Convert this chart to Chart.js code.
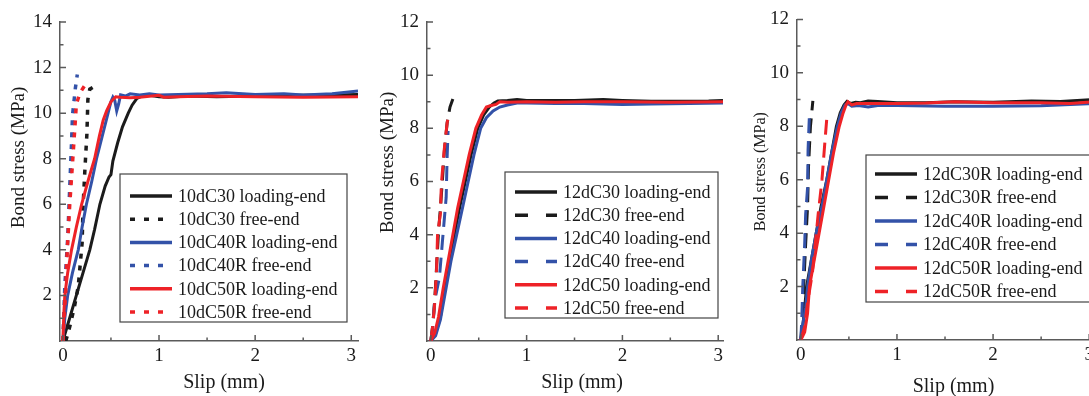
<!DOCTYPE html>
<html>
<head>
<meta charset="utf-8">
<script src="https://cdn.jsdelivr.net/npm/chart.js@4.4.1/dist/chart.umd.min.js"></script>
<style>
html, body { margin: 0; padding: 0; background: #fff; overflow: hidden; width: 1089px; height: 396px; }
canvas { position: absolute; top: 0; }
</style>
</head>
<body>
<canvas id="c1" width="370" height="396" style="left:0"></canvas>
<canvas id="c2" width="370" height="396" style="left:370px"></canvas>
<canvas id="c3" width="370" height="396" style="left:740px"></canvas>
<script>
// tick values
const xTicks = [0, 1, 2, 3];
const xMinor = [0.5, 1.5, 2.5];
const yTicks14 = [2, 4, 6, 8, 10, 12, 14];
const yMinor14 = [1, 3, 5, 7, 9, 11, 13];
const yTicks12 = [2, 4, 6, 8, 10, 12];
const yMinor12 = [1, 3, 5, 7, 9, 11];

// panel 1 - [slip mm, stress MPa]
const p1Labels = ["10dC30 loading-end", "10dC30 free-end", "10dC40R loading-end", "10dC40R free-end", "10dC50R loading-end", "10dC50R free-end"];
const p1C30Load = [[0,0],[0.07,1.0],[0.14,2],[0.21,3],[0.28,4],[0.33,4.9],[0.385,6],[0.44,6.8],[0.48,7.2],[0.5,7.3],[0.52,7.9],[0.57,8.7],[0.62,9.4],[0.68,10.0],[0.72,10.35],[0.77,10.65],[0.82,10.75],[0.9,10.78],[1.0,10.72],[1.1,10.7],[1.3,10.75],[1.6,10.72],[2.0,10.75],[2.4,10.78],[2.8,10.8],[3.07,10.82]];
const p1C30Free = [[0.03,0],[0.07,0.6],[0.12,1.5],[0.16,2.4],[0.2,4.3],[0.21,5.9],[0.23,7.6],[0.25,9.1],[0.26,10.6],[0.28,11.05],[0.32,11.15],[0.36,11.2]];
const p1C40Load = [[0,0],[0.02,1],[0.05,2],[0.1,3],[0.16,4],[0.2,5],[0.245,6],[0.3,7],[0.35,8],[0.41,9],[0.47,10],[0.5,10.5],[0.52,10.7],[0.54,10.55],[0.56,10.1],[0.58,10.4],[0.6,10.8],[0.65,10.75],[0.7,10.85],[0.8,10.8],[0.9,10.85],[1.0,10.8],[1.2,10.82],[1.5,10.85],[1.7,10.9],[2.0,10.82],[2.3,10.85],[2.5,10.8],[2.8,10.85],[3.07,10.97]];
const p1C40Free = [[0,0],[0.02,2.4],[0.05,4.5],[0.07,6.6],[0.09,8.7],[0.1,9.9],[0.13,11.1],[0.15,11.7]];
const p1C50Load = [[0,0],[0.01,1.2],[0.02,2],[0.05,3],[0.09,4],[0.14,5],[0.195,6],[0.26,7],[0.33,8],[0.38,9],[0.42,9.7],[0.455,10.1],[0.5,10.5],[0.55,10.72],[0.6,10.7],[0.7,10.68],[0.8,10.7],[1.0,10.78],[1.05,10.7],[1.2,10.72],[1.5,10.75],[2.0,10.72],[2.5,10.7],[3.07,10.72]];
const p1C50Free = [[0,0],[0.01,0.8],[0.03,2.2],[0.04,3.5],[0.07,5.9],[0.1,7.8],[0.13,9.7],[0.14,10.4],[0.18,10.9],[0.24,11.3]];

// panel 2
const p2Labels = ["12dC30 loading-end", "12dC30 free-end", "12dC40 loading-end", "12dC40 free-end", "12dC50 loading-end", "12dC50 free-end"];
const p2C30Load = [[0,0],[0.05,0.3],[0.1,0.9],[0.145,2],[0.195,3],[0.245,4],[0.3,5],[0.36,6],[0.42,7],[0.49,8],[0.55,8.5],[0.61,8.8],[0.66,8.95],[0.7,9.03],[0.8,9.05],[0.9,9.08],[1.0,9.05],[1.2,9.05],[1.5,9.05],[1.8,9.08],[2.0,9.05],[2.3,9.02],[2.6,9.02],[2.9,9.03],[3.05,9.05]];
const p2C30Free = [[0,0],[0.02,0.6],[0.04,1.5],[0.06,2.8],[0.08,4.1],[0.1,5],[0.12,6],[0.14,7.1],[0.17,8.2],[0.2,8.8],[0.23,9.1]];
const p2C40Load = [[0,0],[0.05,0.2],[0.1,0.8],[0.16,2],[0.21,3],[0.27,4],[0.33,5],[0.39,6],[0.45,7],[0.52,8],[0.58,8.4],[0.65,8.65],[0.72,8.8],[0.8,8.88],[0.9,8.95],[1.0,8.95],[1.3,8.93],[1.6,8.93],[2.0,8.9],[2.3,8.92],[2.7,8.93],[3.05,8.95]];
const p2C40Free = [[0,0],[0.02,0.5],[0.04,1.5],[0.09,2.4],[0.12,3.7],[0.16,5.4],[0.17,6.9],[0.18,7.9]];
const p2C50Load = [[0,0],[0.04,0.3],[0.08,0.9],[0.13,2],[0.18,3],[0.23,4],[0.28,5],[0.34,6],[0.4,7],[0.47,8],[0.53,8.5],[0.58,8.8],[0.62,8.85],[0.68,8.9],[0.72,9.0],[0.8,8.98],[1.0,9.0],[1.3,8.98],[1.6,9.0],[2.0,9.0],[2.5,8.98],[3.05,9.0]];
const p2C50Free = [[0,0],[0.02,0.6],[0.04,1.4],[0.06,2.7],[0.07,4],[0.1,4.8],[0.11,5.9],[0.14,7.2],[0.17,8.2],[0.18,8.4]];

// panel 3
const p3Labels = ["12dC30R loading-end", "12dC30R free-end", "12dC40R loading-end", "12dC40R free-end", "12dC50R loading-end", "12dC50R free-end"];
const p3C30Load = [[0,0],[0.02,0.5],[0.04,1.2],[0.06,2],[0.11,3],[0.16,4],[0.21,5],[0.27,6],[0.32,7],[0.37,8],[0.41,8.5],[0.45,8.8],[0.48,8.93],[0.52,8.85],[0.57,8.9],[0.62,8.88],[0.7,8.95],[0.8,8.93],[1.0,8.88],[1.3,8.88],[1.6,8.92],[2.0,8.9],[2.4,8.95],[2.7,8.93],[3.05,9.0]];
const p3C30Free = [[0,0],[0.02,1],[0.03,2],[0.05,3.6],[0.07,5],[0.08,6.5],[0.1,8],[0.125,8.95]];
const p3C40Load = [[0,0],[0.02,0.6],[0.05,1.2],[0.07,2],[0.11,3],[0.16,4],[0.22,5],[0.27,6],[0.32,7],[0.38,8],[0.42,8.5],[0.46,8.8],[0.49,8.85],[0.53,8.75],[0.6,8.78],[0.7,8.72],[0.8,8.78],[1.0,8.78],[1.5,8.75],[2.0,8.75],[2.5,8.77],[3.05,8.85]];
const p3C40Free = [[0,0],[0.01,0.8],[0.02,2],[0.04,3.6],[0.05,4.7],[0.07,5.7],[0.075,7.1],[0.09,8.5],[0.1,8.6]];
const p3C50Load = [[0,0],[0.04,0.3],[0.07,1],[0.09,2],[0.14,3],[0.19,4],[0.24,5],[0.29,6],[0.34,7],[0.4,8],[0.44,8.5],[0.47,8.8],[0.49,8.92],[0.53,8.8],[0.58,8.85],[0.7,8.85],[1.0,8.85],[1.3,8.87],[1.6,8.92],[2.0,8.88],[2.5,8.88],[2.8,8.85],[3.05,8.92]];
const p3C50Free = [[0,0],[0.04,0.5],[0.07,1.4],[0.12,2.5],[0.15,3.6],[0.18,4.7],[0.22,6],[0.25,7.4],[0.27,8.3],[0.28,8.5]];

const black = "#1b1b1b";
const blue = "#3352a8";
const red = "#ee2227";
const axisColor = "#5a5a5a";
const textColor = "#1a1a1a";
const serif = '"Liberation Serif", "Times New Roman", serif';

// inward tick marks
const innerTicks = {
    id: "innerTicks",
    afterDraw(chart, args, o) {
        const ctx = chart.ctx;
        const xs = chart.scales.x, ys = chart.scales.y;
        const a = chart.chartArea;
        ctx.save();
        ctx.strokeStyle = axisColor;
        ctx.lineWidth = 1.5;
        ctx.beginPath();
        xTicks.forEach(v => { const p = xs.getPixelForValue(v); ctx.moveTo(p, a.bottom); ctx.lineTo(p, a.bottom - 6); });
        xMinor.forEach(v => { const p = xs.getPixelForValue(v); ctx.moveTo(p, a.bottom); ctx.lineTo(p, a.bottom - 3.5); });
        o.yMajor.forEach(v => { const p = ys.getPixelForValue(v); ctx.moveTo(a.left, p); ctx.lineTo(a.left + 6, p); });
        o.yMinor.forEach(v => { const p = ys.getPixelForValue(v); ctx.moveTo(a.left, p); ctx.lineTo(a.left + 3.5, p); });
        ctx.stroke();
        ctx.restore();
    }
};

// boxed legend inside the plot
const boxLegend = {
    id: "boxLegend",
    afterDraw(chart, args, o) {
        const ctx = chart.ctx;
        ctx.save();
        ctx.fillStyle = "#fff";
        ctx.fillRect(o.left, o.top, o.width, o.height);
        ctx.strokeStyle = "#444";
        ctx.lineWidth = 1.2;
        ctx.strokeRect(o.left, o.top, o.width, o.height);
        ctx.font = "18px " + serif;
        ctx.textBaseline = "middle";
        chart.data.datasets.forEach((ds, i) => {
            const y = o.firstRow + i * o.rowGap;
            ctx.strokeStyle = ds.borderColor;
            ctx.lineWidth = 3.5;
            ctx.setLineDash(ds.legendDash || []);
            ctx.beginPath();
            ctx.moveTo(o.lineX, y);
            ctx.lineTo(o.lineX + 42, y);
            ctx.stroke();
            ctx.setLineDash([]);
            ctx.fillStyle = textColor;
            ctx.fillText(ds.label, o.textX, y + 1);
        });
        ctx.restore();
    }
};

// axis titles
const axisTitles = {
    id: "axisTitles",
    afterDraw(chart, args, o) {
        const ctx = chart.ctx, a = chart.chartArea;
        ctx.save();
        ctx.fillStyle = textColor;
        ctx.textAlign = "center";
        ctx.textBaseline = "middle";
        ctx.font = o.xFont + " " + serif;
        ctx.fillText("Slip (mm)", (a.left + a.right) / 2 + o.xDx, o.xY);
        ctx.translate(o.yX, (a.top + a.bottom) / 2 + o.yDy);
        ctx.rotate(-Math.PI / 2);
        ctx.font = o.yFont + " " + serif;
        ctx.fillText("Bond stress (MPa)", 0, 0);
        ctx.restore();
    }
};

function series(labels, arrs, dotted) {
    const colors = [black, black, blue, blue, red, red];
    const drawOrder = [2, 2, 1, 1, 0, 0];
    return arrs.map((arr, i) => {
        const free = i % 2 === 1;
        return {
            label: labels[i],
            data: arr.map(p => ({ x: p[0], y: p[1] })),
            borderColor: colors[i],
            borderWidth: free && dotted ? 3.5 : 3,
            borderDash: free ? (dotted ? [5, 7] : [15, 8]) : [],
            legendDash: free ? (dotted ? [5, 9] : [13, 18]) : [],
            pointRadius: 0,
            tension: 0,
            order: drawOrder[i],
        };
    });
}

function makeChart(id, datasets, cfg) {
    return new Chart(document.getElementById(id), {
        type: "line",
        data: { datasets: datasets },
        plugins: [innerTicks, boxLegend, axisTitles],
        options: {
            responsive: false,
            animation: false,
            layout: { padding: cfg.padding },
            plugins: {
                legend: { display: false },
                tooltip: { enabled: false },
                innerTicks: { yMajor: cfg.yTicks, yMinor: cfg.yMinor },
                boxLegend: cfg.legend,
                axisTitles: cfg.titles,
            },
            scales: {
                x: {
                    type: "linear",
                    min: cfg.xMin,
                    max: cfg.xMax,
                    grid: { display: false, drawTicks: false },
                    border: { display: true, color: axisColor, width: 1.5 },
                    ticks: { font: { family: serif, size: 19 }, color: textColor, padding: 4, maxRotation: 0 },
                    afterBuildTicks: s => { s.ticks = xTicks.map(v => ({ value: v })); },
                    afterFit: s => { s.height = cfg.xH; },
                },
                y: {
                    type: "linear",
                    min: 0,
                    max: cfg.yMax,
                    grid: { display: false, drawTicks: false },
                    border: { display: true, color: axisColor, width: 1.5 },
                    ticks: { font: { family: serif, size: 19 }, color: textColor, padding: 8 },
                    afterBuildTicks: s => { s.ticks = cfg.yTicks.map(v => ({ value: v })); },
                    afterFit: s => { s.width = cfg.yW; },
                },
            },
        },
    });
}

makeChart("c1", series(p1Labels, [p1C30Load, p1C30Free, p1C40Load, p1C40Free, p1C50Load, p1C50Free], true), {
    padding: { top: 22, right: 12, left: 0, bottom: 0 },
    xMin: -0.03, xMax: 3.07, xH: 55, yW: 60, yMax: 14,
    yTicks: yTicks14, yMinor: yMinor14,
    legend: { left: 120, top: 174, width: 227, height: 148, firstRow: 196, rowGap: 23.2, lineX: 130, textX: 178 },
    titles: { xFont: "20px", xDx: 15, xY: 383, yFont: "19px", yX: 19, yDy: -24 },
});

makeChart("c2", series(p2Labels, [p2C30Load, p2C30Free, p2C40Load, p2C40Free, p2C50Load, p2C50Free], false), {
    padding: { top: 22, right: 17, left: 0, bottom: 0 },
    xMin: -0.04, xMax: 3.05, xH: 55, yW: 57, yMax: 12,
    yTicks: yTicks12, yMinor: yMinor12,
    legend: { left: 135, top: 172, width: 213, height: 146, firstRow: 192, rowGap: 23.2, lineX: 145, textX: 193 },
    titles: { xFont: "20px", xDx: 7, xY: 383, yFont: "19px", yX: 18, yDy: -19 },
});

makeChart("c3", series(p3Labels, [p3C30Load, p3C30Free, p3C40Load, p3C40Free, p3C50Load, p3C50Free], false), {
    padding: { top: 19, right: 16, left: 0, bottom: 0 },
    xMin: -0.04, xMax: 3.05, xH: 56, yW: 57, yMax: 12,
    yTicks: yTicks12, yMinor: yMinor12,
    legend: { left: 126, top: 155, width: 260, height: 147, firstRow: 174, rowGap: 23.5, lineX: 135, textX: 183 },
    titles: { xFont: "20px", xDx: 8, xY: 387, yFont: "16px", yX: 21, yDy: -8 },
});
</script>
</body>
</html>
